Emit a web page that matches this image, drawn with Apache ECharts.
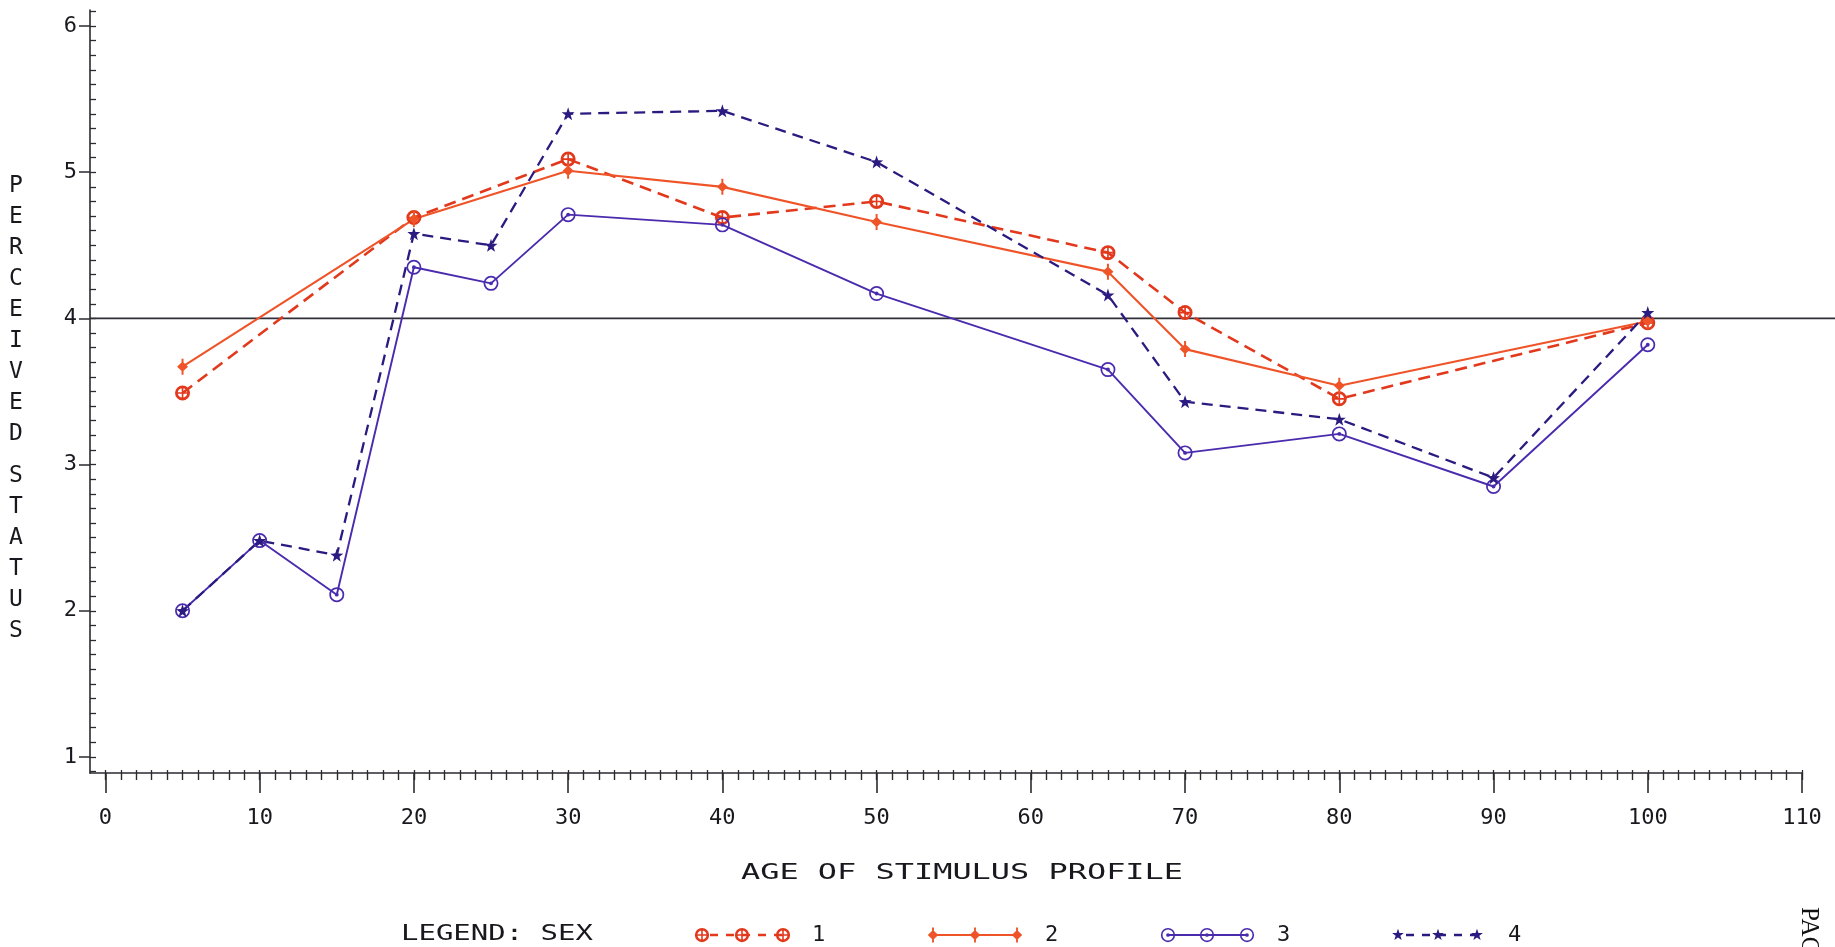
<!DOCTYPE html>
<html><head><meta charset="utf-8">
<script src="https://cdn.jsdelivr.net/npm/echarts@6/dist/echarts.min.js"></script>
<style>html,body{margin:0;padding:0;background:#fff}#c{width:1835px;height:947px}</style>
</head><body><div id="c"></div>
<script>
// ---- data ----
const ages1 = [5, 20, 30, 40, 50, 65, 70, 80, 100];
const sex1  = [3.49, 4.69, 5.09, 4.69, 4.80, 4.45, 4.04, 3.45, 3.97];
const ages2 = [5, 20, 30, 40, 50, 65, 70, 80, 100];
const sex2  = [3.67, 4.68, 5.01, 4.90, 4.66, 4.32, 3.79, 3.54, 3.98];
const ages3 = [5, 10, 15, 20, 25, 30, 40, 50, 65, 70, 80, 90, 100];
const sex3  = [2.00, 2.48, 2.11, 4.35, 4.24, 4.71, 4.64, 4.17, 3.65, 3.08, 3.21, 2.85, 3.82];
const ages4 = [5, 10, 15, 20, 25, 30, 40, 50, 65, 70, 80, 90, 100];
const sex4  = [2.00, 2.48, 2.38, 4.58, 4.50, 5.40, 5.42, 5.07, 4.16, 3.43, 3.31, 2.91, 4.04];
const seriesNames = ['1', '2', '3', '4'];
const xTickLabels = [0, 10, 20, 30, 40, 50, 60, 70, 80, 90, 100, 110];
const yTickLabels = [1, 2, 3, 4, 5, 6];
const refLevel = 4;
const xAxisTitle = 'AGE OF STIMULUS PROFILE';
const yAxisTitleA = 'PERCEIVED';
const yAxisTitleB = 'STATUS';
const legendTitle = 'LEGEND: SEX';
const pageText = 'PAGE';

// ---- styling ----
const FONT = 'DejaVu Sans Mono';
const TXT = '#18181e';
const AX = '#2a2a30';
const C1 = '#e2391d', C2 = '#ef5429', C3 = '#4a2bae', C4 = '#2b1b80';
const P_CPLUS = 'M10,0A10,10,0,1,1,10,20A10,10,0,1,1,10,0Z M10,3.6A6.4,6.4,0,1,0,10,16.4A6.4,6.4,0,1,0,10,3.6Z M8.9,3L11.1,3L11.1,17L8.9,17Z M3,8.9L17,8.9L17,11.1L3,11.1Z';
const P_DIAM = 'M10,3.5L15,10L10,16.5L5,10Z M9.1,0L10.9,0L10.9,20L9.1,20Z';
const P_CDOT = 'M10,0A10,10,0,1,1,10,20A10,10,0,1,1,10,0Z M10,2.3A7.7,7.7,0,1,0,10,17.7A7.7,7.7,0,1,0,10,2.3Z M10,7.4A2.6,2.6,0,1,1,10,12.6A2.6,2.6,0,1,1,10,7.4Z';
const P_STAR = 'M10,0L12.35,6.76L19.51,6.91L13.8,11.24L15.88,18.09L10,14L4.12,18.09L6.2,11.24L0.49,6.91L7.65,6.76Z';

const minorX = []; for (let v = 0; v <= 110; v++) minorX.push(v);
const minorY = []; for (let v = 9; v <= 61; v++) minorY.push(v / 10);

const pairs = (xs, ys) => xs.map((x, i) => [x, ys[i]]);

const seriesDefs = [
  {name: seriesNames[0], data: pairs(ages1, sex1), color: C1, path: P_CPLUS, bw: 20, size: [15, 15], dash: [12, 7], width: 2.6},
  {name: seriesNames[1], data: pairs(ages2, sex2), color: C2, path: P_DIAM, bw: 10, size: [11, 16], dash: 'solid', width: 2.1},
  {name: seriesNames[2], data: pairs(ages3, sex3), color: C3, path: P_CDOT, bw: 20, size: [15, 15], dash: 'solid', width: 1.9},
  {name: seriesNames[3], data: pairs(ages4, sex4), color: C4, path: P_STAR, bw: 20, size: [13, 13], dash: [11, 7], width: 2.3}
];

const chart = echarts.init(document.getElementById('c'), null, {renderer: 'canvas'});

const option = {
  animation: false,
  backgroundColor: '#ffffff',
  grid: {left: 90, right: 33, top: 10, bottom: 174},
  xAxis: [{
    type: 'value', min: -1, max: 110, position: 'bottom',
    axisLine: {show: true, onZero: false, lineStyle: {color: AX, width: 1.6}},
    axisTick: {show: true, customValues: minorX, length: 7, lineStyle: {color: AX, width: 1.4}},
    axisLabel: {show: true, customValues: xTickLabels, margin: 34, fontSize: 22, fontFamily: FONT, color: TXT},
    splitLine: {show: false}
  }, {
    type: 'value', min: -1, max: 110, position: 'bottom',
    axisLine: {show: false, onZero: false},
    axisTick: {show: true, customValues: xTickLabels, length: 20, lineStyle: {color: AX, width: 1.6}},
    axisLabel: {show: false}, splitLine: {show: false}
  }, {
    type: 'value', min: -1, max: 110, position: 'bottom',
    axisLine: {show: false, onZero: false},
    axisTick: {show: true, inside: true, customValues: minorX, length: 3, lineStyle: {color: AX, width: 1.3}},
    axisLabel: {show: false}, splitLine: {show: false}
  }],
  yAxis: [{
    type: 'value', min: 0.89, max: 6.11, position: 'left',
    axisLine: {show: true, onZero: false, lineStyle: {color: AX, width: 1.6}},
    axisTick: {show: true, customValues: yTickLabels, length: 11, lineStyle: {color: AX, width: 1.5}},
    axisLabel: {show: true, customValues: yTickLabels, margin: 13, fontSize: 22, fontFamily: FONT, color: TXT},
    splitLine: {show: false}
  }, {
    type: 'value', min: 0.89, max: 6.11, position: 'left',
    axisLine: {show: false, onZero: false},
    axisTick: {show: true, inside: true, customValues: minorY, length: 6, lineStyle: {color: AX, width: 1.3}},
    axisLabel: {show: false}, splitLine: {show: false}
  }],
  series: seriesDefs.map(d => ({
    type: 'line', name: d.name, data: d.data, xAxisIndex: 0, yAxisIndex: 0,
    symbol: 'path://' + d.path, symbolSize: d.size, showSymbol: true,
    lineStyle: {color: d.color, width: d.width, type: d.dash},
    itemStyle: {color: d.color},
    emphasis: {disabled: true}
  }))
};
chart.setOption(option);

// register legend marker shapes
seriesDefs.forEach((d, i) => {
  echarts.graphic.registerShape('legendMark' + i, echarts.graphic.extendPath(d.path, {}));
});

// graphics: reference line, titles, legend
const y4 = chart.convertToPixel({yAxisIndex: 0}, refLevel);
const g = [];
g.push({type: 'line', z: 1, shape: {x1: 90, y1: y4, x2: 1835, y2: y4}, style: {stroke: '#303038', lineWidth: 1.8}});
g.push({type: 'text', x: 962, y: 874, scaleX: 1.52,
  style: {text: xAxisTitle, font: '21px "' + FONT + '"', fill: TXT, align: 'center', verticalAlign: 'middle'}});
g.push({type: 'text', x: 16, y: 171,
  style: {text: yAxisTitleA.split('').join('\n'), font: '23px "' + FONT + '"', lineHeight: 31, fill: TXT, align: 'center', verticalAlign: 'top'}});
g.push({type: 'text', x: 16, y: 461,
  style: {text: yAxisTitleB.split('').join('\n'), font: '23px "' + FONT + '"', lineHeight: 31, fill: TXT, align: 'center', verticalAlign: 'top'}});
g.push({type: 'text', x: 401, y: 935, scaleX: 1.38,
  style: {text: legendTitle, font: '21px "' + FONT + '"', fill: TXT, align: 'left', verticalAlign: 'middle'}});
g.push({type: 'text', x: 1809, y: 907, rotation: -Math.PI / 2,
  style: {text: pageText, font: '25px "Liberation Serif"', fill: '#111', align: 'left', verticalAlign: 'middle'}});

const legendPos = [
  {xs: [702, 742, 783], label: 812},
  {xs: [933, 975, 1017], label: 1045},
  {xs: [1168, 1207, 1247], label: 1277},
  {xs: [1398, 1438, 1477], label: 1508}
];
const LY = 935;
seriesDefs.forEach((d, i) => {
  const p = legendPos[i];
  g.push({type: 'polyline', shape: {points: p.xs.map(x => [x, LY])},
    style: {stroke: d.color, lineWidth: d.width, lineDash: d.dash === 'solid' ? null : [8, 8], lineDashOffset: -8, fill: null}});
  const sx = d.size[0] * 0.95 / d.bw;
  const sy = d.size[1] * 0.95 / 20;
  p.xs.forEach(x => {
    g.push({type: 'legendMark' + i, x: x - 10 * sx, y: LY - 10 * sy, scaleX: sx, scaleY: sy,
      style: {fill: d.color, stroke: null}});
  });
  g.push({type: 'text', x: p.label, y: LY,
    style: {text: d.name, font: '22px "' + FONT + '"', fill: TXT, align: 'left', verticalAlign: 'middle'}});
});
chart.setOption({graphic: {elements: g}});
</script>
</body></html>
